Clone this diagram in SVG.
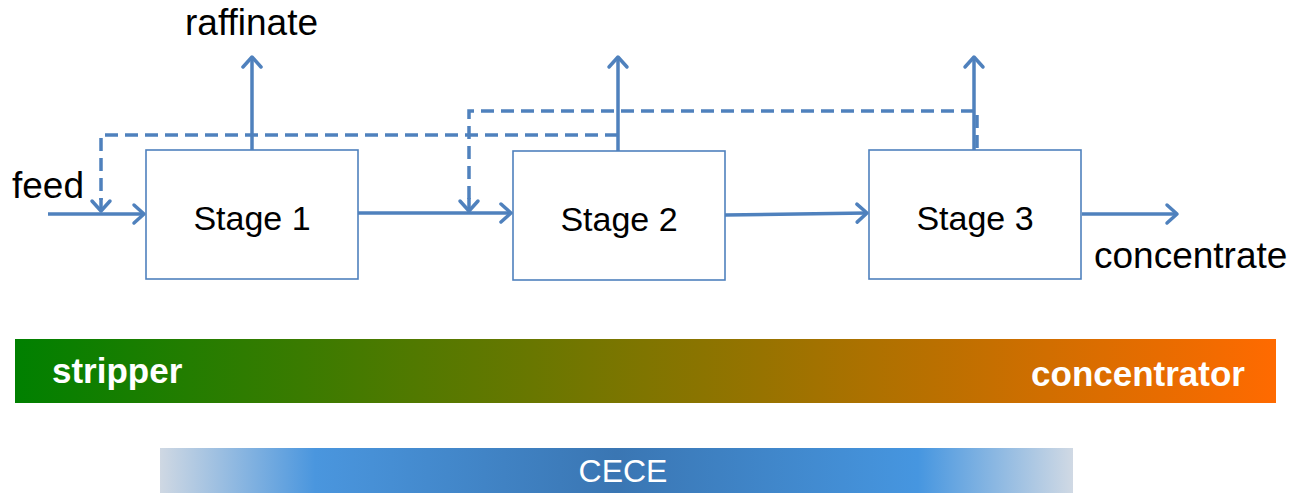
<svg xmlns="http://www.w3.org/2000/svg" width="1302" height="493" viewBox="0 0 1302 493">
<style>
.box{fill:#fff;stroke:#4F81BD;stroke-width:1.6}
.lbl{font-family:"Liberation Sans",Arial,sans-serif;font-size:37px;fill:#000}
.stg{font-size:34px}
.flow{fill:none;stroke:#4F81BD;stroke-width:3.5;marker-end:url(#arr)}
.dash{fill:none;stroke:#4F81BD;stroke-width:3.5;stroke-dasharray:13 7}
.bar{font-family:"Liberation Sans",Arial,sans-serif;fill:#fff}
</style>
<defs>
<marker id="arr" markerWidth="16" markerHeight="24" refX="13" refY="12" orient="auto" markerUnits="userSpaceOnUse">
<polyline points="3,3 13,12 3,21" fill="none" stroke="#4F81BD" stroke-width="3.5" stroke-linecap="round" stroke-linejoin="round"/>
</marker>
<linearGradient id="g1" x1="0" y1="0" x2="1" y2="0">
<stop offset="0" stop-color="#008000"/>
<stop offset="1" stop-color="#FF6A00"/>
</linearGradient>
<linearGradient id="g2" x1="0" y1="0" x2="1" y2="0">
<stop offset="0" stop-color="#CFD8E3"/>
<stop offset="0.17" stop-color="#4A96DE"/>
<stop offset="0.5" stop-color="#3A76B3"/>
<stop offset="0.83" stop-color="#4696E0"/>
<stop offset="1" stop-color="#D0D9E4"/>
</linearGradient>
</defs>
<g id="connectors">
<path class="flow" d="M48,214 H144"/>
<path class="flow" d="M358,213 H511"/>
<path class="flow" d="M725,215 L867,213"/>
<path class="flow" d="M1082,214 H1177"/>
<path class="flow" d="M252,150 V57"/>
<path class="flow" d="M618,151 V57"/>
<path class="flow" d="M974,150 V57"/>
<path class="dash" d="M618,135 H101 V200"/>
<path class="flow" d="M101,198 V211"/>
<path class="dash" d="M977,148 V111 H469 V200"/>
<path class="flow" d="M469,198 V211"/>
</g>
<g id="stage1">
<rect class="box" x="146" y="150" width="212" height="129"/>
<text class="lbl stg" x="252" y="230" text-anchor="middle">Stage 1</text>
</g>
<g id="stage2">
<rect class="box" x="513" y="151" width="212" height="129"/>
<text class="lbl stg" x="619" y="231" text-anchor="middle">Stage 2</text>
</g>
<g id="stage3">
<rect class="box" x="869" y="150" width="212" height="129"/>
<text class="lbl stg" x="975" y="230" text-anchor="middle">Stage 3</text>
</g>
<g id="labels">
<text class="lbl" x="12" y="198">feed</text>
<text class="lbl" x="185" y="35">raffinate</text>
<text class="lbl" x="1094" y="268">concentrate</text>
</g>
<g id="scale-bar">
<rect x="15" y="339" width="1261" height="64" fill="url(#g1)"/>
<text class="bar" x="52" y="383" font-size="35" font-weight="bold">stripper</text>
<text class="bar" x="1245" y="386" font-size="35" font-weight="bold" text-anchor="end">concentrator</text>
</g>
<g id="cece-bar">
<rect x="160" y="448" width="913" height="45" fill="url(#g2)"/>
<text class="bar" x="623" y="482" font-size="32" text-anchor="middle">CECE</text>
</g>
</svg>
